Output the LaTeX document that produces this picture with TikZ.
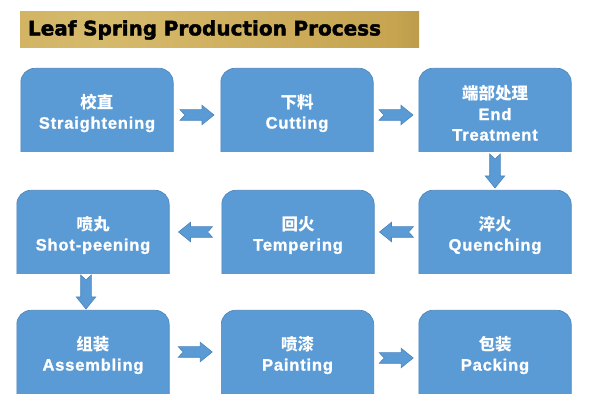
\documentclass[tikz,border=0pt]{standalone}
\usepackage{fontspec}
\setmainfont{Liberation Sans}[LetterSpace=5, BoldFeatures={FakeBold=1.3}]
\newfontfamily\cjk{Noto Sans CJK SC}
\newfontfamily\titlefont{DejaVu Sans}[BoldFeatures={FakeBold=2}]
\usetikzlibrary{calc,backgrounds}

\definecolor{boxblue}{HTML}{5B9BD5}
\definecolor{boxedge}{HTML}{4A84BC}
\definecolor{goldA}{RGB}{198,164,80}
\definecolor{goldB}{RGB}{214,186,108}
\definecolor{goldC}{RGB}{108,84,40}
\pgfdeclarehorizontalshading{goldbar}{100bp}{color(0bp)=(goldA); color(35bp)=(goldB); color(72bp)=(goldA); color(100bp)=(goldC)}

\newcommand{\cn}[1]{{\cjk\bfseries\fontsize{16.5}{20}\selectfont #1}}

\tikzset{
  stepbox/.style={minimum width=152pt, minimum height=83pt, inner sep=0pt, align=center,
    text=white, font=\bfseries\fontsize{16.5}{20.5}\selectfont},
  boxshape/.style={fill=boxblue, draw=boxedge, line width=0.6pt},
  titlebar/.style={shading=goldbar, minimum height=36pt, text width=383pt, inner xsep=8pt,
    align=left, font=\titlefont\bfseries\fontsize{20}{22}\selectfont},
  fa/.style={shift={(\p2)}, rotate=\n1, yshift=#1},
  flowarrow/.style={fill=boxblue, draw=boxedge, line width=0.6pt, to path={
    let \p1=($(\tikztotarget)-(\tikztostart)$), \p2=($(\tikztostart)!0.5!(\tikztotarget)$),
        \n1={atan2(\y1,\x1)} in
    ([fa=#1]-17,5.3) -- ([fa=#1]5,5.3) -- ([fa=#1]5,9.7) -- ([fa=#1]17,0)
    -- ([fa=#1]5,-9.7) -- ([fa=#1]5,-5.3) -- ([fa=#1]-17,-5.3) -- ([fa=#1]-12,0) -- cycle}},
  flowarrow/.default=0pt
}

\begin{document}
\begin{tikzpicture}[x=1pt,y=1pt]
    \useasboundingbox (0,0) rectangle (589,414);

    \node[titlebar] (title) at (219.5,384) {Leaf Spring Production Process};

    % first row (text sits 3pt below the middle of each box)
    \node[stepbox] (straight) at (97,301) {\cn{校直}\\Straightening};
    \node[stepbox] (cut) at (297,301) {\cn{下料}\\Cutting};
    \node[stepbox] (endtreat) at (495,301) {\cn{端部处理}\\End\\Treatment};
    % second row
    \node[stepbox] (shot) at (93,179) {\cn{喷丸}\\Shot-peening};
    \node[stepbox] (temper) at (298,179) {\cn{回火}\\Tempering};
    \node[stepbox] (quench) at (495,179) {\cn{淬火}\\Quenching};
    % third row
    \node[stepbox] (assemble) at (93,59) {\cn{组装}\\Assembling};
    \node[stepbox] (paint) at (297.5,59) {\cn{喷漆}\\Painting};
    \node[stepbox] (pack) at (495,59) {\cn{包装}\\Packing};

    \begin{scope}[on background layer]
        \foreach \b in {straight,cut,endtreat,shot,temper,quench,assemble,paint,pack}
            \filldraw[boxshape] ([yshift=3pt]\b.south west) -- ([yshift=-11pt]\b.north west)
                arc[start angle=180, end angle=90, radius=14pt]
                -- ([xshift=-14pt,yshift=3pt]\b.north east)
                arc[start angle=90, end angle=0, radius=14pt]
                -- ([yshift=3pt]\b.south east) -- cycle;
    \end{scope}

    \draw[flowarrow=-2pt] (straight.east) to (cut.west);
    \draw[flowarrow=-2pt] (cut.east) to (endtreat.west);
    \draw[flowarrow] ([yshift=3pt]endtreat.south) to ([yshift=3pt]quench.north);
    \draw[flowarrow=-3pt] (quench.west) to (temper.east);
    \draw[flowarrow=-3pt] (temper.west) to (shot.east);
    \draw[flowarrow=-7pt] ([yshift=3pt]shot.south) to ([yshift=3pt]assemble.north);
    \draw[flowarrow=3pt] (assemble.east) to (paint.west);
    \draw[flowarrow=-3pt] (paint.east) to (pack.west);
\end{tikzpicture}
\end{document}
